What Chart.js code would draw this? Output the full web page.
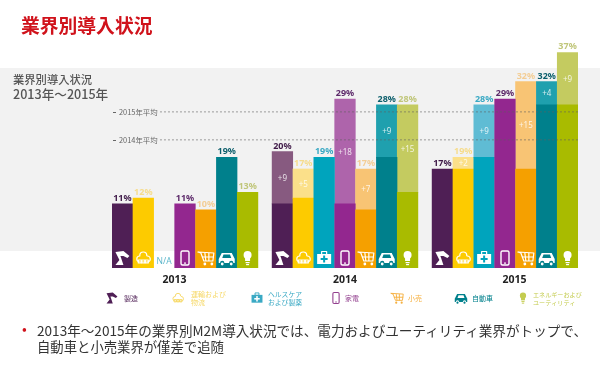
<!DOCTYPE html>
<html lang="ja">
<head>
<meta charset="utf-8">
<title>業界別導入状況</title>
<script src="https://cdn.jsdelivr.net/npm/chart.js@4"></script>
<style>
html, body { margin: 0; padding: 0; background: #fff; }
#page { position: relative; width: 600px; height: 379px; overflow: hidden; font-family: "Noto Sans CJK JP", "Noto Sans", sans-serif; }
#band { position: absolute; left: 0; top: 68px; width: 600px; height: 183px; background: #f2f2f2; }
canvas { position: absolute; left: 0; top: 0; }
.t { position: absolute; white-space: nowrap; }
#title { left: 21px; top: 11px; font-size: 18.8px; line-height: 28px; font-weight: 700; color: #d0121b; }
#sub { left: 13px; top: 71px; font-size: 11.3px; line-height: 16px; font-weight: 500; color: #555; }
#sub2 { left: 13px; top: 86px; font-size: 12.6px; line-height: 16px; font-weight: 500; color: #555; }
#bullet { left: 22px; top: 318px; font-size: 14px; line-height: 20px; color: #d0121b; }
#note1 { left: 37px; top: 319.5px; font-size: 13.6px; line-height: 20px; color: #333; }
#note2 { left: 37px; top: 337px; font-size: 13.35px; line-height: 20px; color: #333; }
</style>
</head>
<body>
<div id="page">
  <div id="band"></div>
  <canvas id="chart" width="600" height="379"></canvas>
  <div class="t" id="title">業界別導入状況</div>
  <div class="t" id="sub">業界別導入状況</div>
  <div class="t" id="sub2">2013年～2015年</div>
  <div class="t" id="bullet">•</div>
  <div class="t" id="note1">2013年～2015年の業界別M2M導入状況では、電力およびユーティリティ業界がトップで、</div>
  <div class="t" id="note2">自動車と小売業界が僅差で追随</div>
</div>
<script>
var years = ['2013', '2014', '2015'];
var industries = ['製造', '運輸および\n物流', 'ヘルスケア\nおよび製薬', '家電', '小売', '自動車', 'エネルギーおよび\nユーティリティ'];

// value at the start of each year, plus the gain drawn lighter on top
var base2013 = [11, 12, null, 11, 10, 19, 13];
var gain2013 = [0, 0, 0, 0, 0, 0, 0];
var base2014 = [11, 12, 19, 11, 10, 19, 13];
var gain2014 = [9, 5, 0, 18, 7, 9, 15];
var base2015 = [17, 17, 19, 29, 17, 28, 28];
var gain2015 = [0, 2, 9, 0, 15, 4, 9];

var averageLabels = ['2015年平均', '2014年平均'];
var averageValues = [26.8, 22];

var solidColors = ['#4f1f55', '#fdcb00', '#00a4bd', '#93278f', '#f5a000', '#00808c', '#a9bb00'];
var lightColors = ['#875a80', '#fbe08a', '#5fbcd4', '#ae64ab', '#f8c474', '#1fa0ae', '#c4cb60'];
var labelColors = ['#3f1a48', '#f6dc8c', '#3aa9c4', '#5d2a6a', '#f3cd95', '#0d5f6c', '#c0c67a'];
var legendColors = ['#4f1f55', '#f6d866', '#3aa9c4', '#93408f', '#f5b040', '#00808c', '#c4cc50'];

var bases = [base2013, base2014, base2015];
var gains = [gain2013, gain2014, gain2015];

var yearGap = 0.67;
function slotX(y, i) { return y * (7 + yearGap) + i + 0.5; }

var baseData = [], baseColors = [], gainData = [], gainColors = [];
bases.forEach(function (row, y) {
    row.forEach(function (v, i) {
        if (v === null) return;
        baseData.push({ x: slotX(y, i), y: v });
        baseColors.push(solidColors[i]);
        if (gains[y][i] > 0) {
            gainData.push({ x: slotX(y, i), y: gains[y][i] });
            gainColors.push(lightColors[i]);
        }
    });
});

var xMax = 3 * 7 + 2 * yearGap;

function avgLine(v, name) {
    return {
        type: 'line', stack: name, order: 0, data: [{ x: 2.3, y: v }, { x: xMax, y: v }],
        borderColor: 'rgba(95,95,95,0.6)', borderWidth: 1, borderDash: [2, 2], pointRadius: 0, fill: false
    };
}

// small white or coloured pictograms for each industry
function drawIcon(c, i, x, y, col, bg, scale) {
    c.save();
    c.translate(x, y);
    c.scale(scale, scale);
    c.fillStyle = col;
    c.strokeStyle = col;
    c.lineWidth = 1.2;
    c.lineJoin = 'round';
    if (i === 0) { // robot arm
        c.beginPath();
        c.moveTo(-7, -6); c.lineTo(1, -7); c.lineTo(7, -2); c.lineTo(5, 0); c.lineTo(1, -2);
        c.lineTo(-2, -2); c.lineTo(1, 7); c.lineTo(-7, 7); c.lineTo(-3, 2);
        c.closePath(); c.fill();
    } else if (i === 1) { // cloud with boxes
        c.beginPath();
        c.arc(-3.5, 1, 3, Math.PI * 0.5, Math.PI * 1.5);
        c.arc(0, -2.5, 3.5, Math.PI, 0);
        c.arc(4, 1, 3, Math.PI * 1.5, Math.PI * 0.5);
        c.closePath(); c.stroke();
        c.strokeRect(-5, 2, 3, 3); c.strokeRect(-1.5, 2, 3, 3); c.strokeRect(2, 2, 3, 3);
    } else if (i === 2) { // medical kit
        c.fillRect(-7, -4, 14, 10);
        c.strokeRect(-2.5, -6.5, 5, 3);
        c.fillStyle = bg;
        c.fillRect(-1, -2.5, 2, 7);
        c.fillRect(-3.5, 0, 7, 2);
    } else if (i === 3) { // phone
        c.lineWidth = 1.4;
        c.beginPath();
        c.roundRect(-4, -7, 8, 14, 1.5);
        c.stroke();
        c.fillRect(-1, 4.5, 2, 1.2);
    } else if (i === 4) { // cart
        c.beginPath();
        c.moveTo(-8, -6); c.lineTo(-5, -5); c.lineTo(-2, 3); c.lineTo(7, 3); c.lineTo(8, -5); c.closePath();
        c.stroke();
        c.beginPath();
        c.moveTo(-1, -5); c.lineTo(0, 3); c.moveTo(3, -5); c.lineTo(3, 3); c.moveTo(-4, -1); c.lineTo(8, -1);
        c.stroke();
        c.beginPath(); c.arc(-1, 6, 1.4, 0, 7); c.arc(6, 6, 1.4, 0, 7); c.fill();
    } else if (i === 5) { // car
        c.beginPath();
        c.moveTo(-8, 1); c.lineTo(-5, -5); c.lineTo(5, -5); c.lineTo(8, 1); c.lineTo(8, 5); c.lineTo(-8, 5);
        c.closePath(); c.fill();
        c.fillStyle = bg;
        c.beginPath();
        c.moveTo(-4.5, 0); c.lineTo(-3.2, -3.4); c.lineTo(3.2, -3.4); c.lineTo(4.5, 0); c.closePath(); c.fill();
        c.beginPath(); c.arc(-4.5, 5, 2.2, 0, 7); c.arc(4.5, 5, 2.2, 0, 7); c.fill();
        c.fillStyle = col;
        c.beginPath(); c.arc(-4.5, 6, 1.4, 0, 7); c.arc(4.5, 6, 1.4, 0, 7); c.fill();
    } else { // bulb
        c.beginPath(); c.arc(0, -3, 4, 0, 7); c.fill();
        c.fillRect(-2.5, 0, 5, 3);
        c.fillRect(-2, 4, 4, 1.2);
        c.fillRect(-1.5, 6, 3, 1.2);
    }
    c.restore();
}

var legendIconX = [112, 178, 257, 336, 397, 461, 523];
var legendTextX = [124, 191, 268, 345, 408, 472, 533];
var legendFont = [7, 7, 6.8, 7, 7, 7, 6.1];
var yearLabelSlot = [3, 11.17, 19.3];

var annotations = {
    id: 'annotations',
    afterDatasetsDraw: function (chart) {
        var c = chart.ctx, sx = chart.scales.x, sy = chart.scales.y;
        var floor = sy.getPixelForValue(0);
        c.save();
        c.textAlign = 'center';
        c.textBaseline = 'alphabetic';

        bases.forEach(function (row, y) {
            row.forEach(function (v, i) {
                var px = sx.getPixelForValue(slotX(y, i));
                if (v === null) {
                    c.fillStyle = '#5fb8cc';
                    c.font = '8.5px "Noto Sans"';
                    c.fillText('N/A', px, floor - 4);
                    return;
                }
                var gain = gains[y][i];
                var total = v + gain;
                drawIcon(c, i, px, floor - 10, '#fff', solidColors[i], 1);
                c.fillStyle = labelColors[i];
                c.font = '700 9px "Noto Sans"';
                c.fillText(total + '%', px, sy.getPixelForValue(total) - 3);
                if (gain > 0) {
                    c.fillStyle = 'rgba(255,255,255,0.8)';
                    c.font = '8px "Noto Sans"';
                    c.fillText('+' + gain, px, sy.getPixelForValue(v + gain / 2) + 3);
                }
            });
        });

        c.fillStyle = '#222';
        c.font = '700 10.5px "Noto Sans"';
        years.forEach(function (yr, y) {
            c.fillText(yr, sx.getPixelForValue(yearLabelSlot[y]), floor + 15);
        });

        c.textAlign = 'left';
        averageValues.forEach(function (v, k) {
            var py = sy.getPixelForValue(v);
            c.fillStyle = '#666';
            c.font = '7.4px "Noto Sans CJK JP"';
            c.fillText(averageLabels[k], 119, py + 3);
            c.fillRect(113, Math.round(py), 3, 1);
        });

        industries.forEach(function (name, i) {
            drawIcon(c, i, legendIconX[i], 298, legendColors[i], '#fff', 0.78);
            var lines = name.split('\n');
            c.fillStyle = legendColors[i];
            c.font = legendFont[i] + 'px "Noto Sans CJK JP"';
            lines.forEach(function (line, n) {
                var top = lines.length === 1 ? 301 : 297 + n * 8;
                c.fillText(line, legendTextX[i], top);
            });
        });
        c.restore();
    }
};

new Chart(document.getElementById('chart'), {
    type: 'bar',
    data: {
        datasets: [
            { data: baseData, backgroundColor: baseColors, stack: 'bars', barThickness: 20.6, order: 2 },
            { data: gainData, backgroundColor: gainColors, stack: 'bars', barThickness: 20.6, order: 2 },
            avgLine(averageValues[0], 'avg15'),
            avgLine(averageValues[1], 'avg14')
        ]
    },
    options: {
        responsive: false,
        animation: false,
        layout: { padding: { left: 112, right: 22, top: 35, bottom: 111 } },
        plugins: { legend: { display: false }, tooltip: { enabled: false } },
        scales: {
            x: { type: 'linear', offset: false, min: 0, max: xMax, display: false },
            y: { stacked: true, min: 0, max: 40, display: false }
        }
    },
    plugins: [annotations]
});
</script>
</body>
</html>
